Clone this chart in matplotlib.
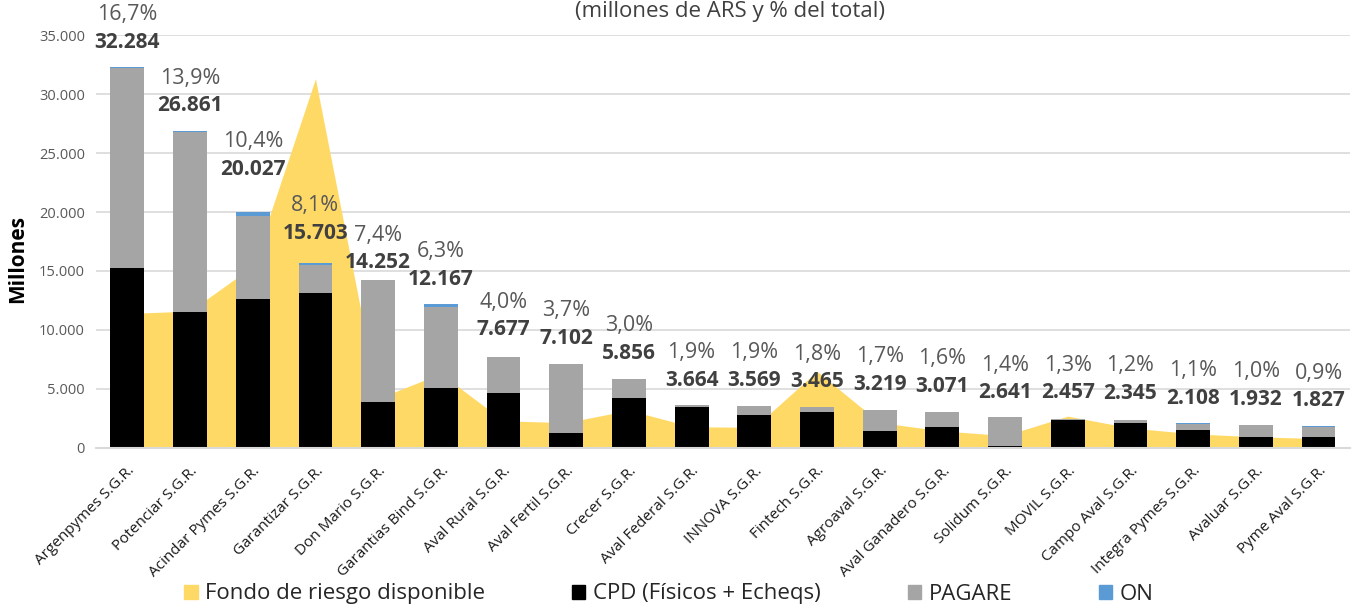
import numpy as np
import matplotlib
matplotlib.use("Agg")
import matplotlib.pyplot as plt
import matplotlib.transforms as mtransforms
from matplotlib.patches import Patch

plt.rcParams["font.family"] = ["Open Sans", "DejaVu Sans"]

# data (millones de ARS)
sgr = [
    "Argenpymes S.G.R.", "Potenciar S.G.R.", "Acindar Pymes S.G.R.", "Garantizar S.G.R.",
    "Don Mario S.G.R.", "Garantias Bind S.G.R.", "Aval Rural S.G.R.", "Aval Fertil S.G.R.",
    "Crecer S.G.R.", "Aval Federal S.G.R.", "INNOVA S.G.R.", "Fintech S.G.R.",
    "Agroaval S.G.R.", "Aval Ganadero S.G.R.", "Solidum S.G.R.", "MOVIL S.G.R.",
    "Campo Aval S.G.R.", "Integra Pymes S.G.R.", "Avaluar S.G.R.", "Pyme Aval S.G.R.",
]
fondo = [11400, 11600, 15400, 31300, 4200, 6300, 2300, 2150, 3200, 1800,
         1750, 6500, 2150, 1450, 1050, 2700, 1700, 1200, 950, 800]
cpd = [15250, 11500, 12600, 13150, 3900, 5100, 4650, 1250, 4250, 3450,
       2800, 3050, 1450, 1750, 150, 2390, 2150, 1500, 900, 900]
pagare = [16954, 15301, 7077, 2353, 10352, 6817, 3027, 5852, 1566, 214,
          739, 415, 1769, 1321, 2491, 27, 195, 568, 1032, 892]
on = [80, 60, 350, 200, 0, 250, 0, 0, 40, 0,
      30, 0, 0, 0, 0, 40, 0, 40, 0, 35]
totales = [32284, 26861, 20027, 15703, 14252, 12167, 7677, 7102, 5856, 3664,
           3569, 3465, 3219, 3071, 2641, 2457, 2345, 2108, 1932, 1827]
share = [16.7, 13.9, 10.4, 8.1, 7.4, 6.3, 4.0, 3.7, 3.0, 1.9,
         1.9, 1.8, 1.7, 1.6, 1.4, 1.3, 1.2, 1.1, 1.0, 0.9]

# label placement (y of the bold total, data units)
label_y = [34400, 29000, 23600, 18200, 15700, 14300, 10000, 9300, 8050, 5760,
           5760, 5600, 5400, 5200, 4660, 4660, 4600, 4200, 4150, 4000]

YELLOW = "#FFD966"
GRAY = "#A5A5A5"
BLUE = "#5B9BD5"


def miles(v):
    return f"{v:,.0f}".replace(",", ".")


fig = plt.figure(figsize=(13.58, 6.10), dpi=100)
ax = fig.add_axes([0.0707, 0.2656, 0.9233, 0.677])

x = np.arange(len(sgr))
w = 0.54

ax.fill_between(x, 0, fondo, color=YELLOW, linewidth=0, zorder=1)
ax.bar(x, cpd, w, color="black", zorder=2)
ax.bar(x, pagare, w, bottom=cpd, color=GRAY, zorder=2)
ax.bar(x, on, w, bottom=np.array(cpd) + np.array(pagare), color=BLUE, zorder=2)

for i in range(len(sgr)):
    ax.text(x[i], label_y[i], miles(totales[i]), ha="center", va="center",
            fontsize=15, fontweight="bold", color="#404040", zorder=5)
    ax.text(x[i], label_y[i] + 2350, f"{share[i]:.1f}%".replace(".", ","),
            ha="center", va="center", fontsize=15.5, color="#595959", zorder=5)

ax.set_xlim(-0.5, len(sgr) - 0.5)
ax.set_ylim(0, 35000)
ax.set_yticks(np.arange(0, 35001, 5000))
ax.set_yticklabels([miles(v) for v in np.arange(0, 35001, 5000)])
ax.yaxis.grid(True, color="#D9D9D9", linewidth=1.2, zorder=0)
ax.set_axisbelow(True)

ax.set_xticks(x)
ax.set_xticklabels(sgr, rotation=45, ha="right", rotation_mode="anchor",
                   fontsize=11, color="#1a1a1a")
shift = mtransforms.ScaledTranslation(8 / 100, 0, fig.dpi_scale_trans)
for lab in ax.get_xticklabels():
    lab.set_transform(lab.get_transform() + shift)
ax.tick_params(axis="x", length=0, pad=11)
ax.tick_params(axis="y", length=0, labelsize=10.5, labelcolor="#595959", pad=8)

for s in ["top", "right", "left"]:
    ax.spines[s].set_visible(False)
ax.spines["bottom"].set_color("#D9D9D9")
ax.spines["bottom"].set_linewidth(1.5)

ax.set_ylabel("Millones", fontsize=15, fontweight="bold")
ax.yaxis.set_label_coords(-0.054, 0.458)

fig.text(730 / 1358, 1 - 12 / 610, "(millones de ARS y % del total)",
         ha="center", va="center", fontsize=16, color="#404040")

handles = [
    Patch(color=YELLOW, label="Fondo de riesgo disponible"),
    Patch(color="black", label="CPD (Físicos + Echeqs)"),
    Patch(color=GRAY, label="PAGARE"),
    Patch(color=BLUE, label="ON"),
]
fig.legend(handles=handles, loc="center", bbox_to_anchor=(669 / 1358, 1 - 594 / 610),
           ncol=4, frameon=False, fontsize=16, handlelength=0.6, handleheight=0.6,
           handletextpad=0.35, columnspacing=3.9, labelcolor="#262626")

fig.savefig("out.png", dpi=100)
